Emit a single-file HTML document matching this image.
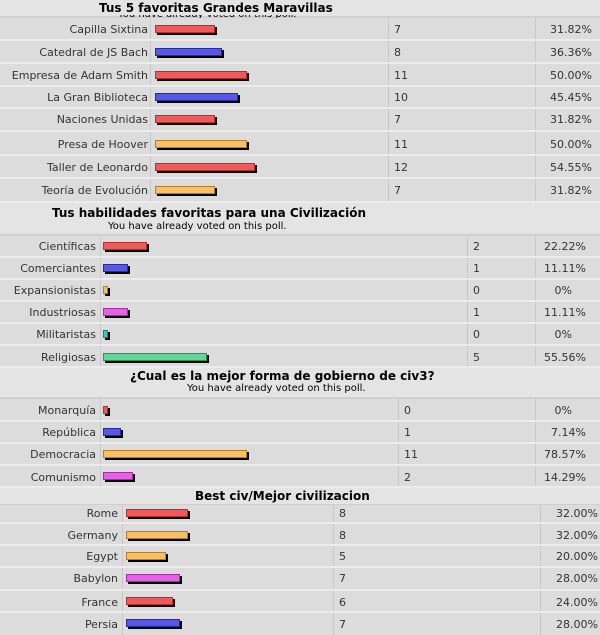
<!DOCTYPE html>
<html><head><meta charset="utf-8"><style>
body{margin:0;width:600px;height:635px;overflow:hidden;background:#dcdcdc;font-family:"DejaVu Sans","Liberation Sans",sans-serif;font-size:11px;color:#333;position:relative}
.r{position:absolute;left:0;width:600px;border-bottom:2px solid #ececec;background:#dcdcdc;box-sizing:border-box}
.h{position:absolute;left:0;width:600px;background:#e4e4e4;border-bottom:2px solid #cfcfcf;box-sizing:border-box}
.t{position:absolute;font-weight:bold;font-size:12px;color:#000;white-space:nowrap}
.s{position:absolute;font-size:10px;color:#000;white-space:nowrap}
.l{position:absolute;text-align:right;white-space:nowrap}
.c,.p{position:absolute;white-space:nowrap}
.p{text-align:right}
.v{position:absolute;top:0;bottom:0;width:1px;background:#c8c8c8}
.b{position:absolute;height:6px;border:1px solid;box-shadow:2px 2px 0 #000}
.R{background:#f05a5a;border-color:#b03030}.B{background:#5858e8;border-color:#2a2aa0}.O{background:#f8c060;border-color:#b08030}.M{background:#e860e8;border-color:#a030a0}.C{background:#40c8c8;border-color:#208080}.G{background:#60d898;border-color:#309060}
</style></head><body>

<div class="h" style="top:0;height:18px"></div>
<div class="t" style="left:99px;top:1px">Tus 5 favoritas Grandes Maravillas</div>
<div style="position:absolute;left:118px;top:15px;height:3px;width:300px;overflow:hidden"><div class="s" style="left:0;top:-6px">You have already voted on this poll.</div></div>

<div class="r" style="top:18px;height:23px"><div class="v" style="left:150px"></div><div class="v" style="left:388px"></div><div class="v" style="left:535px"></div><div class="l" style="right:452px;top:5px">Capilla Sixtina</div><div class="b R" style="left:155px;top:7px;width:58px"></div><div class="c" style="left:394px;top:5px">7</div><div class="p" style="right:8px;top:5px">31.82%</div></div>
<div class="r" style="top:41px;height:23px"><div class="v" style="left:150px"></div><div class="v" style="left:388px"></div><div class="v" style="left:535px"></div><div class="l" style="right:452px;top:5px">Catedral de JS Bach</div><div class="b B" style="left:155px;top:7px;width:65px"></div><div class="c" style="left:394px;top:5px">8</div><div class="p" style="right:8px;top:5px">36.36%</div></div>
<div class="r" style="top:64px;height:23px"><div class="v" style="left:150px"></div><div class="v" style="left:388px"></div><div class="v" style="left:535px"></div><div class="l" style="right:452px;top:5px">Empresa de Adam Smith</div><div class="b R" style="left:155px;top:7px;width:90px"></div><div class="c" style="left:394px;top:5px">11</div><div class="p" style="right:8px;top:5px">50.00%</div></div>
<div class="r" style="top:87px;height:22px"><div class="v" style="left:150px"></div><div class="v" style="left:388px"></div><div class="v" style="left:535px"></div><div class="l" style="right:452px;top:4px">La Gran Biblioteca</div><div class="b B" style="left:155px;top:6px;width:81px"></div><div class="c" style="left:394px;top:4px">10</div><div class="p" style="right:8px;top:4px">45.45%</div></div>
<div class="r" style="top:109px;height:23px"><div class="v" style="left:150px"></div><div class="v" style="left:388px"></div><div class="v" style="left:535px"></div><div class="l" style="right:452px;top:4px">Naciones Unidas</div><div class="b R" style="left:155px;top:6px;width:58px"></div><div class="c" style="left:394px;top:4px">7</div><div class="p" style="right:8px;top:4px">31.82%</div></div>
<div class="r" style="top:132px;height:24px"><div class="v" style="left:150px"></div><div class="v" style="left:388px"></div><div class="v" style="left:535px"></div><div class="l" style="right:452px;top:6px">Presa de Hoover</div><div class="b O" style="left:155px;top:8px;width:90px"></div><div class="c" style="left:394px;top:6px">11</div><div class="p" style="right:8px;top:6px">50.00%</div></div>
<div class="r" style="top:156px;height:23px"><div class="v" style="left:150px"></div><div class="v" style="left:388px"></div><div class="v" style="left:535px"></div><div class="l" style="right:452px;top:5px">Taller de Leonardo</div><div class="b R" style="left:155px;top:7px;width:98px"></div><div class="c" style="left:394px;top:5px">12</div><div class="p" style="right:8px;top:5px">54.55%</div></div>
<div class="r" style="top:179px;height:24px"><div class="v" style="left:150px"></div><div class="v" style="left:388px"></div><div class="v" style="left:535px"></div><div class="l" style="right:452px;top:5px">Teoría de Evolución</div><div class="b O" style="left:155px;top:7px;width:58px"></div><div class="c" style="left:394px;top:5px">7</div><div class="p" style="right:8px;top:5px">31.82%</div></div>

<div class="h" style="top:203px;height:33px"></div>
<div class="t" style="left:52px;top:206px">Tus habilidades favoritas para una Civilización</div>
<div class="s" style="left:108px;top:221px">You have already voted on this poll.</div>

<div class="r" style="top:236px;height:22px"><div class="v" style="left:100px"></div><div class="v" style="left:467px"></div><div class="v" style="left:535px"></div><div class="l" style="right:504px;top:4px">Científicas</div><div class="b R" style="left:103px;top:6px;width:42px"></div><div class="c" style="left:473px;top:4px">2</div><div class="p" style="right:14px;top:4px">22.22%</div></div>
<div class="r" style="top:258px;height:22px"><div class="v" style="left:100px"></div><div class="v" style="left:467px"></div><div class="v" style="left:535px"></div><div class="l" style="right:504px;top:4px">Comerciantes</div><div class="b B" style="left:103px;top:6px;width:23px"></div><div class="c" style="left:473px;top:4px">1</div><div class="p" style="right:14px;top:4px">11.11%</div></div>
<div class="r" style="top:280px;height:22px"><div class="v" style="left:100px"></div><div class="v" style="left:467px"></div><div class="v" style="left:535px"></div><div class="l" style="right:504px;top:4px">Expansionistas</div><div class="b O" style="left:103px;top:6px;width:3px"></div><div class="c" style="left:473px;top:4px">0</div><div class="p" style="right:28px;top:4px">0%</div></div>
<div class="r" style="top:302px;height:22px"><div class="v" style="left:100px"></div><div class="v" style="left:467px"></div><div class="v" style="left:535px"></div><div class="l" style="right:504px;top:4px">Industriosas</div><div class="b M" style="left:103px;top:6px;width:23px"></div><div class="c" style="left:473px;top:4px">1</div><div class="p" style="right:14px;top:4px">11.11%</div></div>
<div class="r" style="top:324px;height:22px"><div class="v" style="left:100px"></div><div class="v" style="left:467px"></div><div class="v" style="left:535px"></div><div class="l" style="right:504px;top:4px">Militaristas</div><div class="b C" style="left:103px;top:6px;width:3px"></div><div class="c" style="left:473px;top:4px">0</div><div class="p" style="right:28px;top:4px">0%</div></div>
<div class="r" style="top:346px;height:22px"><div class="v" style="left:100px"></div><div class="v" style="left:467px"></div><div class="v" style="left:535px"></div><div class="l" style="right:504px;top:5px">Religiosas</div><div class="b G" style="left:103px;top:7px;width:102px"></div><div class="c" style="left:473px;top:5px">5</div><div class="p" style="right:14px;top:5px">55.56%</div></div>

<div class="h" style="top:368px;height:31px"></div>
<div class="t" style="left:130px;top:369px">¿Cual es la mejor forma de gobierno de civ3?</div>
<div class="s" style="left:187px;top:383px">You have already voted on this poll.</div>

<div class="r" style="top:399px;height:23px"><div class="v" style="left:100px"></div><div class="v" style="left:398px"></div><div class="v" style="left:535px"></div><div class="l" style="right:504px;top:5px">Monarquía</div><div class="b R" style="left:103px;top:7px;width:3px"></div><div class="c" style="left:404px;top:5px">0</div><div class="p" style="right:28px;top:5px">0%</div></div>
<div class="r" style="top:422px;height:22px"><div class="v" style="left:100px"></div><div class="v" style="left:398px"></div><div class="v" style="left:535px"></div><div class="l" style="right:504px;top:4px">República</div><div class="b B" style="left:103px;top:6px;width:16px"></div><div class="c" style="left:404px;top:4px">1</div><div class="p" style="right:14px;top:4px">7.14%</div></div>
<div class="r" style="top:444px;height:22px"><div class="v" style="left:100px"></div><div class="v" style="left:398px"></div><div class="v" style="left:535px"></div><div class="l" style="right:504px;top:4px">Democracia</div><div class="b O" style="left:103px;top:6px;width:142px"></div><div class="c" style="left:404px;top:4px">11</div><div class="p" style="right:14px;top:4px">78.57%</div></div>
<div class="r" style="top:466px;height:22px"><div class="v" style="left:100px"></div><div class="v" style="left:398px"></div><div class="v" style="left:535px"></div><div class="l" style="right:504px;top:5px">Comunismo</div><div class="b M" style="left:103px;top:6px;width:28px"></div><div class="c" style="left:404px;top:5px">2</div><div class="p" style="right:14px;top:5px">14.29%</div></div>

<div class="h" style="top:488px;height:17px;border-bottom:1px solid #cfcfcf"></div>
<div class="t" style="left:195px;top:489px">Best civ/Mejor civilizacion</div>

<div class="r" style="top:505px;height:19px"><div class="v" style="left:122px"></div><div class="v" style="left:333px"></div><div class="v" style="left:540px"></div><div class="l" style="right:482px;top:2px">Rome</div><div class="b R" style="left:126px;top:4px;width:60px"></div><div class="c" style="left:339px;top:2px">8</div><div class="p" style="right:2px;top:2px">32.00%</div></div>
<div class="r" style="top:524px;height:22px"><div class="v" style="left:122px"></div><div class="v" style="left:333px"></div><div class="v" style="left:540px"></div><div class="l" style="right:482px;top:5px">Germany</div><div class="b O" style="left:126px;top:7px;width:60px"></div><div class="c" style="left:339px;top:5px">8</div><div class="p" style="right:2px;top:5px">32.00%</div></div>
<div class="r" style="top:546px;height:22px"><div class="v" style="left:122px"></div><div class="v" style="left:333px"></div><div class="v" style="left:540px"></div><div class="l" style="right:482px;top:4px">Egypt</div><div class="b O" style="left:126px;top:6px;width:38px"></div><div class="c" style="left:339px;top:4px">5</div><div class="p" style="right:2px;top:4px">20.00%</div></div>
<div class="r" style="top:568px;height:23px"><div class="v" style="left:122px"></div><div class="v" style="left:333px"></div><div class="v" style="left:540px"></div><div class="l" style="right:482px;top:4px">Babylon</div><div class="b M" style="left:126px;top:6px;width:52px"></div><div class="c" style="left:339px;top:4px">7</div><div class="p" style="right:2px;top:4px">28.00%</div></div>
<div class="r" style="top:591px;height:22px"><div class="v" style="left:122px"></div><div class="v" style="left:333px"></div><div class="v" style="left:540px"></div><div class="l" style="right:482px;top:5px">France</div><div class="b R" style="left:126px;top:6px;width:45px"></div><div class="c" style="left:339px;top:5px">6</div><div class="p" style="right:2px;top:5px">24.00%</div></div>
<div class="r" style="top:613px;height:22px;border-bottom:none"><div class="v" style="left:122px"></div><div class="v" style="left:333px"></div><div class="v" style="left:540px"></div><div class="l" style="right:482px;top:5px">Persia</div><div class="b B" style="left:126px;top:6px;width:52px"></div><div class="c" style="left:339px;top:5px">7</div><div class="p" style="right:2px;top:5px">28.00%</div></div>

</body></html>
